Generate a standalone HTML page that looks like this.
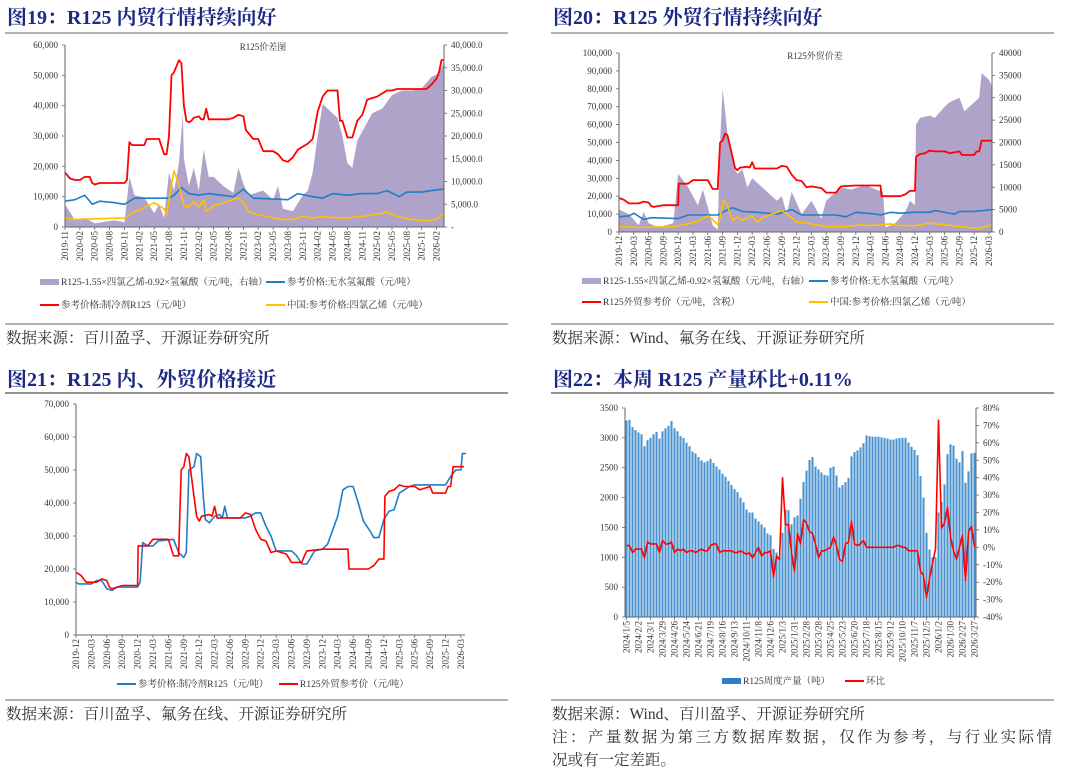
<!DOCTYPE html>
<html><head><meta charset="utf-8">
<style>
html,body{margin:0;padding:0;background:#fff;}
svg{display:block;font-family:"Liberation Serif","Noto Serif CJK SC",serif;}
.ttl{font-size:20px;font-weight:bold;fill:#1c2a86;}
.src{font-size:15.5px;fill:#333;}
.tk{font-size:9px;fill:#333;}
.lg{font-size:9.5px;fill:#333;}
</style></head>
<body>
<svg id="root" width="1080" height="775" viewBox="0 0 1080 775" xmlns="http://www.w3.org/2000/svg">
<text class="ttl" x="7" y="24">图19：R125 内贸行情持续向好</text>
<text class="ttl" x="553" y="24">图20：R125 外贸行情持续向好</text>
<text class="ttl" x="7" y="386">图21：R125 内、外贸价格接近</text>
<text class="ttl" x="553" y="386">图22：本周 R125 产量环比+0.11%</text>
<line x1="5" y1="33" x2="508" y2="33" stroke="#999" stroke-width="1.5"/>
<line x1="551" y1="33" x2="1054" y2="33" stroke="#999" stroke-width="1.5"/>
<line x1="5" y1="324" x2="508" y2="324" stroke="#999" stroke-width="1.5"/>
<line x1="551" y1="324" x2="1054" y2="324" stroke="#999" stroke-width="1.5"/>
<line x1="5" y1="393" x2="508" y2="393" stroke="#555" stroke-width="1.2"/>
<line x1="551" y1="393" x2="1054" y2="393" stroke="#555" stroke-width="1.2"/>
<line x1="5" y1="700" x2="508" y2="700" stroke="#999" stroke-width="1.5"/>
<line x1="551" y1="700" x2="1054" y2="700" stroke="#999" stroke-width="1.5"/>
<text class="src" x="6" y="343">数据来源：百川盈孚、开源证券研究所</text>
<text class="src" x="552" y="343">数据来源：Wind、氟务在线、开源证券研究所</text>
<text class="src" x="6" y="719">数据来源：百川盈孚、氟务在线、开源证券研究所</text>
<text class="src" x="552" y="719">数据来源：Wind、百川盈孚、开源证券研究所</text>
<text class="src" x="552" y="742" textLength="500" lengthAdjust="spacing">注：产量数据为第三方数据库数据，仅作为参考，与行业实际情</text>
<text class="src" x="552" y="765">况或有一定差距。</text>
</svg>
<script>
// ---------- Fig 19 data (month index, 0 = 2019-11) ----------
const f19Labels = ["2019-11","2020-02","2020-05","2020-08","2020-11","2021-02","2021-05","2021-08","2021-11","2022-02","2022-05","2022-08","2022-11","2023-02","2023-05","2023-08","2023-11","2024-02","2024-05","2024-08","2024-11","2025-02","2025-05","2025-08","2025-11","2026-02"];
const f19RedM = [0,0.5,1,2,3,4,5,5.5,6,7,9,12,12.5,13,13.5,16,16.5,19,20,20.5,21,21.5,22,22.5,23,23.5,24,24.5,25,25.5,26,27,27.5,28,28.5,29,33,34,35,36,36.5,37.5,38,39,40,42,43,44,45,46,47,48,49,50,51,52,53,55,55.5,56,57,58,59,60,61,63,64,65,66,67,73,74,75,75.5,76,76.5];
const f19RedV = [18000,17000,16000,15500,15500,16500,16500,14500,14000,14500,14500,14500,15500,28000,27000,27000,29000,29000,24000,24000,30000,50000,51000,53000,55000,54000,40000,35000,34500,35000,36000,36500,35500,35500,39000,35500,35500,36000,37000,36500,32000,30000,29000,29000,25000,25000,24000,22000,21500,23000,25500,26500,27500,29000,38000,43000,45000,45000,35000,35000,29500,29500,35000,37000,42000,43000,44000,45000,45000,45500,45500,47000,49000,51000,55000,55000];
const f19BlueM = [0,2,4,5.5,7,10,12,14,21,22,23.5,25,27,29,34,36,38,45,47,50,52,54,57,60,63,65,67.5,69,72,74,76.5];
const f19BlueV = [8500,9000,10500,7500,8500,8000,7500,9500,9500,10500,13000,11000,10500,11000,10000,12500,9500,9000,11000,10000,9500,11000,10500,11000,11000,12000,10000,11500,11500,12000,12500];
const f19YelM = [0,2,12,14,15,18,20,20.5,21,22,23,24,25,26,27,28,28.5,30,35,36,37,39,42,44,46,48,50,52,55,57,60,64,65,67,70,73,75,76.5];
const f19YelV = [3000,2500,3000,5000,5500,8000,6000,4000,9000,18500,14000,7000,6500,8500,6500,9000,5000,7000,9500,8000,5000,4000,3000,2500,2500,3500,3000,3500,3000,3000,3500,4500,5000,3500,2500,2000,2500,4500];
const f19AreaM = [0,2,4,6,10,12,13,14,16,18,19,20,21,22,23,23.8,24,25,26,27,28,29,30,32,34,35,36,37,40,42,43,44,46,48,49,50,51,52,54,55,56,57,58,59,60,62,64,66,68,70,72,74,75,76,76.5];
const f19AreaV = [5000,1500,2000,800,1500,1000,11000,7000,6500,3000,5000,2000,12000,8000,14000,25000,15000,9000,13000,8000,17000,11000,11000,9000,7500,13000,9500,7000,8000,6000,9000,4000,3500,7000,8000,12000,20000,27000,25000,24000,20000,14000,13000,19000,21000,25000,26000,29000,30000,30000,30500,33000,33500,35000,36500];

// ---------- Fig 20 data (month index, 0 = 2019-12) ----------
const f20Labels = ["2019-12","2020-03","2020-06","2020-09","2020-12","2021-03","2021-06","2021-09","2021-12","2022-03","2022-06","2022-09","2022-12","2023-03","2023-06","2023-09","2023-12","2024-03","2024-06","2024-09","2024-12","2025-03","2025-06","2025-09","2025-12","2026-03"];
const f20RedM = [0,1,2,4,5,6,6.5,7,9,12,12.1,14,15,18,19,20,20.5,21,21.5,22,23,23.5,24,24.5,26,26.5,27,27.5,32,33,34,35,36,37,38,39,41,42,44,44.5,45,48,53,53.2,57,58,59,60,60.2,61,62,63,64,66,67,69,69.5,72,72.5,73,73.5,75.6];
const f20RedV = [19000,18000,16000,16000,17000,16500,14500,14000,15000,15000,27000,27000,29000,29000,24000,24000,50000,51000,55000,54000,42000,36000,34500,36000,36500,36000,39000,35500,35500,37000,36500,32000,29000,28500,25000,25500,24500,22000,22000,24000,25500,26000,26000,20000,20000,21000,23000,23000,42000,43500,44000,45500,45000,45000,44000,45000,43000,43000,45000,45000,51000,51000];
const f20BlueM = [0,2,3,5,6.5,12,14,20,21,23,25,28,32,35,37,44,46,48,52,53,55,57,60,63,64,68,69,72,74,75.6];
const f20BlueV = [8500,9000,10500,7000,8000,7500,9500,9500,11000,13500,11500,11000,10000,12500,9500,9500,8500,11000,10000,9500,11000,10500,11000,11000,12000,10000,11500,11500,12000,12500];
const f20YelM = [0,4,11,14,16,18,19,20,20.5,21.2,22,23,24,25,27,28,29,33,35,36,38,42,46,49,51,55,57,60,63,66,69,73,75.6];
const f20YelV = [3000,2500,3000,4500,6000,9000,7000,4000,8000,18000,15000,6500,8500,6500,9000,5500,8000,12000,8000,5500,5000,3000,3000,4000,3500,4500,3500,3500,5000,4000,3000,2000,4000];
const f20AreaM = [0,2,4,5,6,8,11,12,14,16,17,19,20,20.5,21,22,22.5,23.5,24,25,26,27,29,32,33,34,35,37,39,41,42,45,47,50,52,53.5,54,56,58,59,60,60.2,61,63,64,66,67,69,70,72,73,73.5,75,75.6];
const f20AreaV = [5000,4000,1500,4500,2000,1000,2000,13000,10000,6000,9500,1500,500,20000,32000,22000,19000,14000,13000,14000,10000,12000,10000,7000,8000,4000,9000,4000,7000,3000,7000,10000,9500,10500,9500,9000,1000,2000,4500,7000,6000,24000,25500,26000,25500,28000,29000,30000,27000,29000,30000,35500,34000,32500];

// ---------- Fig 21 data (month index, 0 = 2019-12) ----------
const f21Labels = f20Labels.slice();
const f21BlueM = [0,0.5,3,4,5,6,7,8,12,12.5,13,14,15,16,19,20,21,21.5,21.8,22,23,23.5,24.3,24.8,25.2,26,27,28,28.5,29,29.5,33,34,35,36,37,38,39,42,43,44,45,46.5,48,49,51,52,53,54,55,56,57.5,58,59,60,61,62,63,64,65,66,72,73,74,75,75.3,76];
const f21BlueV = [16000,15500,15500,16500,16500,14000,13500,14500,14500,16000,28000,27000,27000,28500,29000,25000,23500,25000,40000,50000,51000,55000,54000,42000,35000,34000,36000,36500,35500,39000,35500,35500,36000,37000,37000,33000,30000,25500,25500,24000,21500,21500,25500,26000,27500,36000,44000,45000,45000,40000,34500,31000,29500,29500,35000,37500,38000,43000,44000,45000,45500,45500,48000,50000,50000,55000,55000];
const f21RedM = f20RedM.map(v => v);
const f21RedV = f20RedV.map(v => v);

// ---------- Fig 22 data (weekly, 2024/1/5 .. 2026/3/27) ----------
const f22Labels = ["2024/1/5","2024/2/2","2024/3/1","2024/3/29","2024/4/26","2024/5/24","2024/6/21","2024/7/19","2024/8/16","2024/9/13","2024/10/11","2024/11/8","2024/12/6","2025/1/3","2025/1/31","2025/2/28","2025/3/28","2025/4/25","2025/5/23","2025/6/20","2025/7/18","2025/8/15","2025/9/12","2025/10/10","2025/11/7","2025/12/5","2026/1/2","2026/1/30","2026/2/27","2026/3/27"];
const f22Output = [3290,3300,3180,3130,3090,3060,2860,2960,3000,3060,
3100,2990,3110,3160,3200,3280,3160,3110,3030,3000,
2920,2860,2770,2740,2680,2620,2590,2610,2650,2580,
2520,2470,2400,2350,2280,2210,2140,2090,2000,1920,
1800,1750,1750,1650,1600,1550,1500,1400,1370,1140,
1080,1000,1410,1800,1790,1550,1670,1700,1980,2260,
2450,2630,2680,2520,2470,2420,2380,2370,2500,2520,
2370,2170,2210,2260,2330,2690,2760,2790,2840,2910,
3040,3030,3020,3020,3020,3010,3000,2990,2970,2970,
2990,3000,3000,3000,2920,2850,2800,2710,2360,2000,
1410,1130,1000,1000,1750,1930,2220,2730,2890,2870,
2650,2590,2780,2250,2440,2740,2750];
const f22Ring = [1,1,-3,-1,-1,-1,-6,3,2,2,
2,-3,4,2,2,3,-3,-1,-2,-1,
-3,-2,-2,-3,-2,-1,-2,-2,1,2,
2,-3,-2,-2,-2,-2,-3,-3,-2,-3,
-4,-3,-6,-3,0,-5,-3,-3,-2,-17,
-5,-7,40,13,13,-3,-14,8,2,16,
14,9,8,2,-6,-2,-2,-1,0,6,
1,-7,-8,2,3,15,2,1,2,4,
0,0,0,0,0,0,0,0,0,0,
1,1,0,0,-2,-2,-2,-2,-14,-16,
-29,-18,-9,-1,73,11,14,23,6,-2,
-7,0,7,-19,9,12,0];
const f22LeftTicks = [0,500,1000,1500,2000,2500,3000,3500];
const f22RightTicks = [-40,-30,-20,-10,0,10,20,30,40,50,60,70,80];

const NS = "http://www.w3.org/2000/svg";
const root = document.getElementById("root");
function mk(tag, attrs, parent){
  const e = document.createElementNS(NS, tag);
  for (const k in attrs) e.setAttribute(k, attrs[k]);
  (parent || root).appendChild(e);
  return e;
}
function lin(d0,d1,r0,r1){ return v => r0 + (v-d0)/(d1-d0)*(r1-r0); }
function fmt(n){ return n.toString().replace(/\B(?=(\d{3})+(?!\d))/g, ","); }
function pathFrom(ms, vs, xs, ys){
  return ms.map((m,i)=>(i?"L":"M")+xs(m).toFixed(1)+","+ys(vs[i]).toFixed(1)).join("");
}
function group(name){
  const g = mk("g", {});
  
  
  return g;
}
function xLabels(g, labels, xOf, y0){
  labels.forEach((t,i)=>{
    const x = xOf(i);
    const tk = mk("line",{x1:x,y1:y0,x2:x,y2:y0+3,stroke:"#666","stroke-width":0.8},g);
    
    
    const tx = mk("text",{class:"tk",x:0,y:0,"text-anchor":"end",transform:`translate(${x+3},${y0+4}) rotate(-90)`},g);
    tx.textContent = t;
    
    
  });
}
function yTicks(g, vals, ys, axX, side, fmtFn){
  vals.forEach(v=>{
    const y = ys(v);
    const tk = mk("line",{x1:axX,y1:y,x2:axX+(side<0?-3:3),y2:y,stroke:"#666","stroke-width":0.8},g);
    
    
    const tx = mk("text",{class:"tk",x:axX+(side<0?-7:7),y:y+3,"text-anchor":side<0?"end":"start"},g);
    tx.textContent = fmtFn(v);
    
    
  });
}
function axisLine(g,x1,y1,x2,y2,name){
  const l = mk("line",{x1,y1,x2,y2,stroke:"#666","stroke-width":1},g);
  
  
}
function series(g, d, color, w, name){
  const p = mk("path",{d, fill:"none", stroke:color, "stroke-width":w, "stroke-linejoin":"round"},g);
  
  
}
function area(g, ms, vs, xs, ys, base, color, name){
  const d = pathFrom(ms, vs, xs, ys) + `L${xs(ms[ms.length-1])},${base}L${xs(ms[0])},${base}Z`;
  const p = mk("path",{d, fill:color, stroke:"none"},g);
  
  
}
function legendItem(g, type, x, y, color, label, name){
  let m;
  if (type === "rect") m = mk("rect",{x, y:y-3, width:19, height:6, fill:color},g);
  else m = mk("line",{x1:x, y1:y, x2:x+19, y2:y, stroke:color, "stroke-width":2},g);
  
  
  const t = mk("text",{class:"lg", x:x+21, y:y+3},g);
  t.textContent = label;
  
  
}
const PURPLE="#b0a3c9", RED="#ff0000", BLUE="#1f7ec6", YEL="#ffc000";

// ===== Fig 19 =====
(function(){
  const g = group("fig19-chart");
  const xs = lin(0,76.5,65,444), yl = lin(0,60000,227,45), yr = lin(0,40000,227,45);
  area(g, f19AreaM, f19AreaV, xs, yr, 227, PURPLE, "price-spread-area");
  series(g, pathFrom(f19BlueM,f19BlueV,xs,yl), BLUE, 1.6, "hf-price-line");
  series(g, pathFrom(f19YelM,f19YelV,xs,yl), YEL, 1.6, "pce-price-line");
  series(g, pathFrom(f19RedM,f19RedV,xs,yl), RED, 1.8, "r125-price-line");
  axisLine(g,65,45,65,227,"left-y-axis");
  axisLine(g,444,45,444,227,"right-y-axis");
  axisLine(g,65,227,444,227,"x-axis");
  yTicks(g,[0,10000,20000,30000,40000,50000,60000],yl,65,-1,fmt);
  yTicks(g,[0,5000,10000,15000,20000,25000,30000,35000,40000],yr,444,1,v=>v===0?"-":fmt(v)+".0");
  xLabels(g,f19Labels,i=>xs(i*3),227);
  const t = mk("text",{class:"tk",x:263,y:50,"text-anchor":"middle","font-size":10},g);
  t.textContent="R125价差图";
  
  
  legendItem(g,"rect",40,282,PURPLE,"R125-1.55×四氯乙烯-0.92×氢氟酸（元/吨，右轴）","legend-spread");
  legendItem(g,"line",266,282,BLUE,"参考价格:无水氢氟酸（元/吨）","legend-hf");
  legendItem(g,"line",40,305,RED,"参考价格:制冷剂R125（元/吨）","legend-r125");
  legendItem(g,"line",266,305,YEL,"中国:参考价格:四氯乙烯（元/吨）","legend-pce");
})();

// ===== Fig 20 =====
(function(){
  const g = group("fig20-chart");
  const xs = lin(0,75.6,619,992), yl = lin(0,100000,232,53), yr = lin(0,40000,232,53);
  area(g, f20AreaM, f20AreaV, xs, yr, 232, PURPLE, "export-spread-area");
  series(g, pathFrom(f20BlueM,f20BlueV,xs,yl), BLUE, 1.6, "hf-price-line");
  series(g, pathFrom(f20YelM,f20YelV,xs,yl), YEL, 1.6, "pce-price-line");
  series(g, pathFrom(f20RedM,f20RedV,xs,yl), RED, 1.8, "r125-export-price-line");
  axisLine(g,619,53,619,232,"left-y-axis");
  axisLine(g,992,53,992,232,"right-y-axis");
  axisLine(g,619,232,992,232,"x-axis");
  yTicks(g,[0,10000,20000,30000,40000,50000,60000,70000,80000,90000,100000],yl,619,-1,fmt);
  yTicks(g,[0,5000,10000,15000,20000,25000,30000,35000,40000],yr,992,1,v=>String(v));
  xLabels(g,f20Labels,i=>xs(i*3),232);
  const t = mk("text",{class:"tk",x:815,y:59,"text-anchor":"middle","font-size":10},g);
  t.textContent="R125外贸价差";
  
  
  legendItem(g,"rect",582,281,PURPLE,"R125-1.55×四氯乙烯-0.92×氢氟酸（元/吨，右轴）","legend-spread");
  legendItem(g,"line",809,281,BLUE,"参考价格:无水氢氟酸（元/吨）","legend-hf");
  legendItem(g,"line",582,302,RED,"R125外贸参考价（元/吨，含税）","legend-r125-export");
  legendItem(g,"line",809,302,YEL,"中国:参考价格:四氯乙烯（元/吨）","legend-pce");
})();

// ===== Fig 21 =====
(function(){
  const g = group("fig21-chart");
  const xs = lin(0,75.8,76,465), yl = lin(0,70000,635,404);
  series(g, pathFrom(f21BlueM,f21BlueV,xs,yl), BLUE, 1.6, "domestic-r125-line");
  series(g, pathFrom(f21RedM,f21RedV,xs,yl), RED, 1.6, "export-r125-line");
  axisLine(g,76,404,76,635,"y-axis");
  axisLine(g,76,635,465,635,"x-axis");
  yTicks(g,[0,10000,20000,30000,40000,50000,60000,70000],yl,76,-1,fmt);
  xLabels(g,f21Labels,i=>xs(i*3),635);
  legendItem(g,"line",117,684,BLUE,"参考价格:制冷剂R125（元/吨）","legend-domestic");
  legendItem(g,"line",279,684,RED,"R125外贸参考价（元/吨）","legend-export");
})();

// ===== Fig 22 =====
(function(){
  const g = group("fig22-chart");
  const n = f22Output.length;
  const bw = (976-625)/n;
  const xc = i => 625 + bw*(i+0.5);
  const yl = lin(0,3500,617,408), yr = lin(-40,80,617,408);
  f22Output.forEach((v,i)=>{
    const r = mk("rect",{x:(xc(i)-bw*0.35).toFixed(2), y:yl(v).toFixed(1), width:(bw*0.7).toFixed(2), height:(617-yl(v)).toFixed(1), fill:"#4a93d0"},g);
    
    
  });
  series(g, f22Ring.map((v,i)=>(i?"L":"M")+xc(i).toFixed(1)+","+yr(v).toFixed(1)).join(""), RED, 1.6, "wow-change-line");
  axisLine(g,625,408,625,617,"left-y-axis");
  axisLine(g,976,408,976,617,"right-y-axis");
  axisLine(g,625,617,976,617,"x-axis");
  yTicks(g,f22LeftTicks,yl,625,-1,v=>String(v));
  yTicks(g,f22RightTicks,yr,976,1,v=>v+"%");
  xLabels(g,f22Labels,i=>xc(i*4),617);
  legendItem(g,"rect",722,681,"#2f7fc4","R125周度产量（吨）","legend-output");
  legendItem(g,"line",845,681,RED,"环比","legend-wow");
})();
</script>
</body></html>
